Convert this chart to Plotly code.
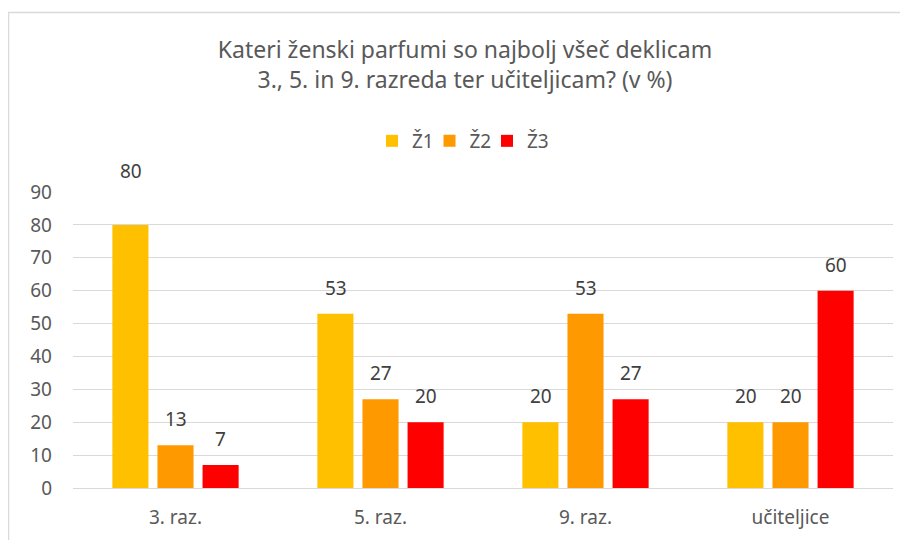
import plotly.graph_objects as go

categories = ["3. raz.", "5. raz.", "9. raz.", "učiteljice"]
series_names = ["Ž1", "Ž2", "Ž3"]
z1 = [80, 53, 20, 20]
z2 = [13, 27, 53, 20]
z3 = [7, 20, 27, 60]
colors = ["#FFC000", "#FF9900", "#FF0000"]

# the page puts the figure 8px in from the top-left, so margins are set with that in mind
L, R, T, B = 65, 23, 184, 60
pw, ph = 908 - L - R, 540 - T - B
slot = 45  # px per bar slot inside a group
legend_step = 57.5

fig = go.Figure()
annotations = []
legends = {}
for i, (name, vals, col) in enumerate(zip(series_names, [z1, z2, z3], colors)):
    lg = "legend" if i == 0 else "legend%d" % (i + 1)
    fig.add_trace(go.Bar(
        x=categories, y=vals, name=name, legend=lg, showlegend=True,
        marker=dict(color=col, line=dict(width=0)),
    ))
    legends[lg] = dict(
        x=(372 - 8 + i * legend_step - L) / pw, xanchor="left",
        y=(540 - B - 133) / ph, yanchor="middle",
        font=dict(size=19, color="#595959"), itemwidth=30,
        bgcolor="rgba(0,0,0,0)",
    )
    for cat, v in zip(categories, vals):
        annotations.append(dict(
            x=cat, y=v, xref="x", yref="y", text=str(v), showarrow=False,
            xshift=(i - 1) * slot, yshift=54 if v >= 80 else 26,
            yanchor="middle", font=dict(size=19, color="#404040"),
        ))

fig.update_layout(
    width=908, height=540, showlegend=True,
    paper_bgcolor="white", plot_bgcolor="white",
    font=dict(family="Noto Sans, Open Sans, sans-serif", color="#595959"),
    title=dict(
        text="Kateri ženski parfumi so najbolj všeč deklicam<br>3., 5. in 9. razreda ter učiteljicam? (v %)",
        x=(465 - 8) / 908, xanchor="center", y=1 - 50 / 540, yanchor="middle",
        font=dict(size=23, color="#595959"),
    ),
    barmode="group", bargap=0.34, bargroupgap=0.2,
    margin=dict(l=L, r=R, t=T, b=B, autoexpand=False),
    xaxis=dict(
        showline=True, linecolor="#d9d9d9", linewidth=1,
        tickfont=dict(size=19, color="#595959"), ticks="", ticklabelstandoff=12,
    ),
    yaxis=dict(
        range=[0, 90], dtick=10, showgrid=True, gridcolor="#d9d9d9",
        gridwidth=1, zeroline=False, showline=False,
        tickfont=dict(size=19, color="#595959"), ticks="", ticklabelstandoff=20,
    ),
    annotations=annotations,
    shapes=[dict(
        type="rect", xref="paper", yref="paper",
        x0=(0.5 - L) / pw, x1=(940 - L) / pw,
        y0=(540 - B - 620) / ph, y1=(540 - B - 4.5) / ph,
        line=dict(color="#d9d9d9", width=1.5), fillcolor="rgba(0,0,0,0)",
        layer="below",
    )],
    **legends,
)

fig.write_html("out.html")
